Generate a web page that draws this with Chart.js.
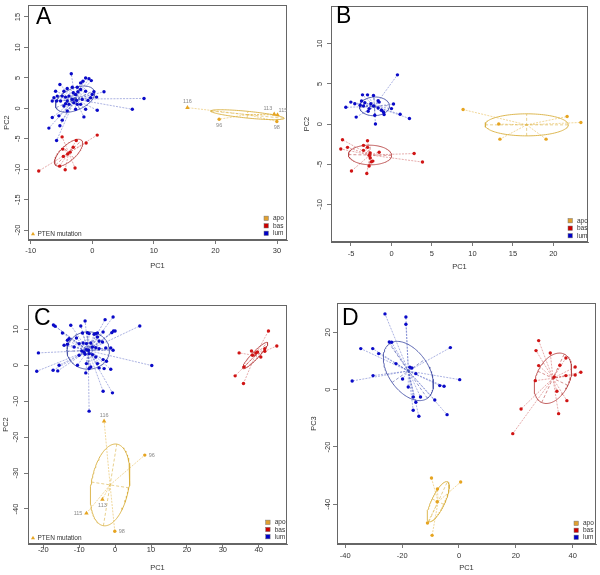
<!DOCTYPE html>
<html><head><meta charset="utf-8">
<script src="https://cdn.jsdelivr.net/npm/chart.js@4.4.1/dist/chart.umd.min.js"></script>
<style>
body{margin:0;background:#fff;width:600px;height:575px;position:relative;overflow:hidden}
canvas{position:absolute}
</style></head><body>
<canvas id="cA" width="300" height="290" style="left:0;top:0"></canvas>
<canvas id="cB" width="300" height="290" style="left:300px;top:0"></canvas>
<canvas id="cC" width="300" height="285" style="left:0;top:290px"></canvas>
<canvas id="cD" width="300" height="285" style="left:300px;top:290px"></canvas>
<script>
// ---------- DATA ----------
const groupNames = ['apo', 'bas', 'lum'];

// Panel A (PC1 vs PC2)
const A_xticks = [-10, 0, 10, 20, 30];
const A_yticks = [-20, -15, -10, -5, 0, 5, 10, 15];
const A_lum = [[-3.41,5.68],[-0.54,4.87],[-1.08,4.98],[-0.16,4.55],[-1.9,4.17],[-1.52,4.44],[-2.44,3.46],[-3.25,3.46],[-4.07,3.25],[-5.26,3.9],[-5.96,2.81],[-4.61,2.81],[0.27,2.71],[1.9,2.71],[0,2.27],[-0.27,1.73],[0.7,1.84],[-1.08,2.81],[-1.9,3.08],[-2.33,2.71],[-2.71,2.27],[-3.09,2.54],[-3.79,2.0],[-4.34,1.84],[-4.88,2.0],[-5.69,2.0],[-6.23,1.73],[-6.5,1.19],[-5.8,1.19],[-5.15,1.19],[-4.07,1.19],[-3.25,1.46],[-2.55,1.3],[-1.63,1.46],[-0.7,1.3],[-1.9,0.65],[-2.98,0.92],[-3.79,0.65],[-4.34,0.76],[-4.61,0.38],[-4.07,-0.43],[-2.71,-0.16],[-2.44,0.65],[-1.08,-0.16],[0.81,-0.32],[-6.5,-1.52],[-5.42,-1.24],[-1.36,-1.41],[-4.88,-1.95],[-5.26,-2.87],[-7.05,-3.25],[-5.8,-5.3],[8.4,1.62],[6.5,-0.16]];
const A_bas = [[-8.7,-10.3],[-5.3,-9.5],[-4.4,-10.1],[-2.8,-9.8],[-4.7,-7.9],[-4.0,-7.5],[-3.6,-7.2],[-4.8,-6.7],[-3.1,-6.4],[-2.6,-5.3],[-1.0,-5.7],[0.8,-4.4],[-4.9,-4.7]];
const A_apo = [[15.45,0.11],[20.6,-1.79],[29.54,-0.97],[30.08,-1.08],[29.97,-2.16]];
const A_apo_ids = ['116', '96', '113', '115', '98'];
const A_apo_pten = [1, 0, 1, 1, 0];
// ellipse: centre x, centre y, axis-1 (dx, dy), axis-2 (dx, dy)
const A_lum_ell = [-2.8, 1.5, 3.1, 1.4, -0.74, 1.64];
const A_bas_ell = [-3.85, -7.3, 2.12, 2.03, -0.85, 0.88];
const A_apo_ell = [25.2, -1.05, 5.96, -0.6, 0.055, 0.55];

// Panel B (PC1 vs PC2)
const B_xticks = [-5, 0, 5, 10, 15, 20];
const B_yticks = [-10, -5, 0, 5, 10];
const B_lum = [[0.74,6.12],[-3.58,3.63],[-2.96,3.63],[-2.22,3.55],[-5.02,2.73],[-4.53,2.53],[-3.7,2.86],[-3.29,2.65],[-2.55,2.53],[-1.65,2.9],[-1.52,2.73],[-5.64,2.08],[-3.87,2.33],[-3.46,2.24],[-2.76,1.92],[-2.22,2.24],[-1.65,2.0],[-1.23,1.71],[-0.99,1.51],[-0.91,1.18],[0.25,2.49],[0,1.92],[1.07,1.22],[2.22,0.69],[-4.36,0.86],[-2.88,1.59],[-2.06,1.1],[-1.98,0]];
const B_bas = [[-6.05,-1.96],[-6.26,-3.1],[-5.43,-2.9],[-4.94,-5.84],[-3.46,-2.65],[-2.96,-2.08],[-3.46,-3.27],[-2.96,-2.9],[-2.76,-3.88],[-2.63,-4.2],[-2.47,-4.69],[-2.3,-4.61],[-2.76,-5.22],[-3.05,-6.16],[-1.52,-3.51],[2.8,-3.67],[3.83,-4.73],[-2.63,-3.59]];
const B_apo = [[8.85,1.8],[13.25,0],[13.4,-1.88],[19.1,-1.88],[21.7,0.94],[23.4,0.2]];
const B_lum_ell = [-2.1, 2.2, 1.85, 0.1, -0.06, 1.16];
const B_bas_ell = [-2.65, -3.85, 2.67, -0.05, 0.02, 1.22];
const B_apo_ell = [16.7, -0.1, 5.14, 0, 0, 1.37];

// Panel C (PC1 vs PC2)
const C_xticks = [-20, -10, 0, 10, 20, 30, 40];
const C_yticks = [-40, -30, -20, -10, 0, 10];
const C_lum = [[-17.18,11.2],[-16.71,10.83],[-0.56,13.43],[-2.79,12.69],[-8.36,12.31],[-12.35,11.11],[-9.56,10.93],[-14.67,8.98],[-12.81,7.41],[-13.28,6.94],[-10.77,7.59],[-9.1,8.98],[-7.71,9.07],[-7.24,8.8],[-5.85,8.61],[-5.39,8.8],[-4.92,8.98],[-3.34,9.26],[-0.93,9.07],[-0.46,9.54],[0,9.54],[6.87,10.93],[-14.21,5.56],[-13.28,5.83],[-11.42,5.09],[-10.03,6.02],[-8.91,6.2],[-7.99,6.02],[-6.78,6.2],[-4.92,7.87],[-4.46,6.76],[-3.53,6.48],[-6.31,5.09],[-5.39,4.91],[-7.43,4.17],[-9.29,3.98],[-8.64,3.61],[-7.99,4.35],[-4.46,4.63],[-2.6,4.81],[-1.21,4.81],[-0.56,4.17],[-21.36,3.43],[-10.03,2.78],[-8.36,3.06],[-7.24,3.24],[-6.31,2.96],[-5.39,2.31],[-3.34,1.57],[-2.41,1.11],[-15.6,0],[-10.49,0],[-7.99,0.46],[-4.92,0.46],[-6.78,-0.46],[-4.46,-0.74],[-3.06,-0.93],[-1.21,-1.11],[-21.82,-1.67],[-17.27,-1.39],[-15.97,-1.57],[-8.17,-2.13],[-7.24,-0.93],[10.21,-0.09],[-3.34,-7.22],[-0.74,-7.69],[-7.24,-12.78]];
const C_bas = [[42.71,9.54],[45.03,5.37],[34.54,3.43],[37.98,3.98],[39.18,3.43],[39.65,3.7],[41.69,4.63],[41.69,3.89],[40.58,2.31],[35.93,-0.46],[33.43,-2.96],[35.75,-5.09],[38.25,2.78]];
const C_apo = [[-3.06,-15.56],[8.26,-25.0],[-3.53,-37.31],[-7.99,-41.2],[-0.09,-46.2]];
const C_apo_ids = ['116', '96', '113', '115', '98'];
const C_apo_pten = [1, 0, 1, 1, 0];
const C_lum_ell = [-7.5, 4.1, 5.9, 0.2, -0.2, 5.2];
const C_bas_ell = [39.0, 2.7, 3.43, 3.61, 0.72, -0.69];
const C_apo_ell = [-1.4, -33.3, 1.86, 11.35, 5.2, -0.8];

// Panel D (PC1 vs PC3)
const D_xticks = [-40, -20, 0, 20, 40];
const D_yticks = [-40, -20, 0, 20];
const D_lum = [[-26.03,26.41],[-18.67,25.36],[-18.67,22.8],[-34.55,14.31],[-30.35,14.31],[-28.25,12.57],[-24.51,16.64],[-23.69,16.52],[-22.17,9.08],[-17.27,7.8],[-16.57,7.56],[-3.03,14.66],[-37.58,3.02],[-30.23,4.89],[-19.84,3.72],[-15.17,5.58],[0.25,3.49],[-17.85,0.93],[-16.1,-2.56],[-13.53,-2.56],[-15.17,-4.42],[-16.1,-7.21],[-14.11,-9.31],[-8.51,-3.61],[-6.76,1.4],[-5.25,1.16],[-4.19,-8.73]];
const D_bas = [[28.03,17.1],[27.1,13.61],[32.12,12.8],[37.61,11.05],[28.03,8.38],[35.5,8.49],[40.87,7.91],[42.86,6.05],[26.86,3.14],[33.52,4.42],[37.61,4.89],[40.87,5.12],[34.45,-0.58],[37.96,-3.84],[35.04,-8.38],[21.84,-6.75],[18.92,-15.36]];
const D_apo = [[-9.68,-30.83],[-7.58,-34.67],[0.59,-32.23],[-7.69,-39.09],[-11.08,-46.54],[-9.45,-50.84]];
const D_lum_ell = [-17.8, 6.5, -6.69, 9.53, 5.74, 4.0];
const D_bas_ell = [33.05, 3.96, 3.95, 8.44, 5.30, -2.47];
const D_apo_ell = [-7.34, -39.1, 3.26, 6.95, 2.13, -0.99];

// ---------- STYLE ----------
const FONT = '"Liberation Sans", Arial, Helvetica, sans-serif';
const TICK_SIZE = 7.5;
const COLORS = {
  lum: {pt: '#0a0ac8', ell: '#4a55a8', star: 'rgba(70,85,190,0.75)', leg: '#0000c8'},
  bas: {pt: '#d01414', ell: '#b84545', star: 'rgba(200,70,70,0.75)', leg: '#cc0000'},
  apo: {pt: '#e6a420', ell: '#d9b040', star: 'rgba(228,178,60,0.85)', leg: '#e0a030'}
};

function ellipsePts(e) {
  const [cx, cy, ax, ay, bx, by] = e; const out = [];
  for (let i = 0; i <= 120; i++) { const t = 2 * Math.PI * i / 120;
    out.push({x: cx + ax * Math.cos(t) + bx * Math.sin(t), y: cy + ay * Math.cos(t) + by * Math.sin(t)}); }
  return out;
}
function axesPts(e) {
  const [cx, cy, ax, ay, bx, by] = e;
  return [{x: cx - ax, y: cy - ay}, {x: cx + ax, y: cy + ay}, {x: null, y: null}, {x: cx - bx, y: cy - by}, {x: cx + bx, y: cy + by}];
}
function starPts(e, pts) {
  const out = [];
  pts.forEach(p => { out.push({x: e[0], y: e[1]}, {x: p[0], y: p[1]}, {x: null, y: null}); });
  return out;
}
const toXY = pts => pts.map(p => ({x: p[0], y: p[1]}));

const measureCtx = document.createElement('canvas').getContext('2d');
function textW(s, size) { measureCtx.font = size + 'px ' + FONT; return measureCtx.measureText(s).width; }

const deco = {
  id: 'deco',
  afterDraw(chart, args, o) {
    const ctx = chart.ctx, ca = chart.chartArea;
    const xs = chart.scales.x, ys = chart.scales.y;
    ctx.save();
    // box
    ctx.strokeStyle = '#666'; ctx.lineWidth = 1;
    ctx.strokeRect(Math.round(ca.left) + 0.5, Math.round(ca.top) + 0.5, Math.round(ca.right - ca.left) - 1, Math.round(ca.bottom - ca.top) - 1);
    // panel letter
    ctx.fillStyle = '#000'; ctx.font = o.letterSize + 'px ' + FONT;
    ctx.textAlign = 'left'; ctx.textBaseline = 'alphabetic';
    ctx.fillText(o.letter, o.letterX, o.letterY);
    // legend
    const rows = ['apo', 'bas', 'lum'];
    ctx.font = '6.5px ' + FONT; ctx.textBaseline = 'middle';
    rows.forEach((g, i) => {
      const y = ca.bottom - o.legBottom - (2 - i) * o.legStep;
      const x = ca.right - o.legRight;
      ctx.fillStyle = COLORS[g].leg; ctx.fillRect(x, y - 2.2, 4.4, 4.4);
      ctx.strokeStyle = '#777'; ctx.lineWidth = 0.5; ctx.strokeRect(x, y - 2.2, 4.4, 4.4);
      ctx.fillStyle = '#333'; ctx.fillText(g, x + 9, y + 0.3);
    });
    if (o.pten) {
      const x = ca.left + 5, y = ca.bottom - 6.3;
      ctx.fillStyle = COLORS.apo.pt; ctx.beginPath();
      ctx.moveTo(x, y - 2); ctx.lineTo(x + 2, y + 1.5); ctx.lineTo(x - 2, y + 1.5); ctx.closePath(); ctx.fill();
      ctx.fillStyle = '#333'; ctx.fillText('PTEN mutation', x + 4.5, y + 0.3);
    }
    // apo sample labels
    if (o.ids) {
      ctx.font = '5.5px ' + FONT; ctx.fillStyle = '#8a8a8a';
      o.ids.forEach((id, i) => {
        const px = xs.getPixelForValue(o.apo[i][0]), py = ys.getPixelForValue(o.apo[i][1]);
        const pos = o.labelPos[i];
        let dx = 0, dy = 0; ctx.textAlign = 'center';
        if (pos === 'above') dy = -6; else if (pos === 'below') dy = 6;
        else if (pos === 'left') { dx = -4; ctx.textAlign = 'right'; }
        else if (pos === 'right') { dx = 4; ctx.textAlign = 'left'; }
        else if (pos === 'aboveLeft') { dx = -2; dy = -6; ctx.textAlign = 'right'; }
        else if (pos === 'aboveRight') { dx = 1; dy = -4; ctx.textAlign = 'left'; }
        ctx.fillText(id, px + dx, py + dy);
      });
    }
    ctx.restore();
  }
};

function buildPanel(id, p) {
  const canvas = document.getElementById(id);
  const W = canvas.width, H = canvas.height;
  const datasets = [];
  p.groups.forEach(g => {
    const c = COLORS[g.name];
    datasets.push({data: toXY(g.pts), order: 0, showLine: false, pointStyle: g.styles || 'circle',
      pointRadius: g.radii || 1.7, backgroundColor: c.pt, borderColor: c.pt, borderWidth: 0});
    datasets.push({data: starPts(g.ell, g.pts), order: 2, showLine: true, pointRadius: 0,
      borderColor: c.star, borderWidth: 0.6, borderDash: [2, 1.2], spanGaps: false});
    datasets.push({data: axesPts(g.ell), order: 1, showLine: true, pointRadius: 0,
      borderColor: c.ell, borderWidth: 0.6, borderDash: [3, 2], spanGaps: false});
    datasets.push({data: ellipsePts(g.ell), order: 1, showLine: true, pointRadius: 0,
      borderColor: c.ell, borderWidth: 0.9, tension: 0});
  });
  const lh = TICK_SIZE * 1.2;
  const widest = Math.max(...p.yticks.map(v => textW(String(v), TICK_SIZE)));
  const tickLen = 4;
  const yPad = p.area.left - tickLen - p.yLabX - widest / 2;
  const tickFont = {family: FONT, size: TICK_SIZE};
  new Chart(canvas, {
    type: 'scatter',
    data: {datasets},
    options: {
      responsive: false, animation: false, events: [],
      layout: {padding: {left: 0, top: p.area.top, right: W - p.area.right, bottom: 0}},
      plugins: {legend: {display: false}, tooltip: {enabled: false}, deco: p.deco},
      scales: {
        x: {type: 'linear', position: 'bottom', min: p.xmin, max: p.xmax,
          afterBuildTicks: s => { s.ticks = p.xticks.map(v => ({value: v})); },
          afterFit: s => { s.height = H - p.area.bottom; },
          grid: {display: true, drawOnChartArea: false, drawTicks: true, tickLength: tickLen, color: '#555', lineWidth: 0.8},
          border: {display: true, color: '#666'},
          ticks: {font: tickFont, color: '#333', padding: p.area.xLabY - p.area.bottom - tickLen - lh / 2, autoSkip: false, maxRotation: 0, callback: v => String(v)},
          title: {display: true, text: 'PC1', font: tickFont, color: '#333', padding: {top: 0, bottom: H - p.xTitY - lh / 2}}},
        y: {type: 'linear', position: 'left', min: p.ymin, max: p.ymax,
          afterBuildTicks: s => { s.ticks = p.yticks.map(v => ({value: v})); },
          afterFit: s => { s.width = p.area.left; },
          grid: {display: true, drawOnChartArea: false, drawTicks: true, tickLength: tickLen, color: '#555', lineWidth: 0.8},
          border: {display: true, color: '#666'},
          ticks: {font: tickFont, color: '#333', padding: yPad, autoSkip: false, minRotation: 90, maxRotation: 90, crossAlign: 'center', callback: v => String(v)},
          title: {display: true, text: p.yTitle, font: tickFont, color: '#333', padding: {top: p.yTitX - lh / 2, bottom: 0}}}
      }
    },
    plugins: [deco]
  });
}

const triStyles = flags => flags.map(f => f ? 'triangle' : 'circle');
const triRadii = flags => flags.map(f => f ? 2.6 : 1.7);

buildPanel('cA', {
  area: {left: 28, top: 3, right: 287, bottom: 240, xLabY: 251},
  xmin: -10.44, xmax: 31.62, ymin: -21.63, ymax: 16.95, xticks: A_xticks, yticks: A_yticks,
  yLabX: 18, xTitY: 265.7, yTitX: 7, yTitle: 'PC2',
  groups: [
    {name: 'apo', pts: A_apo, ell: A_apo_ell, styles: triStyles(A_apo_pten), radii: triRadii(A_apo_pten)},
    {name: 'bas', pts: A_bas, ell: A_bas_ell},
    {name: 'lum', pts: A_lum, ell: A_lum_ell}],
  deco: {letter: 'A', letterSize: 23, letterX: 36, letterY: 24, legRight: 23, legBottom: 6.7, legStep: 7.5, pten: true,
    ids: A_apo_ids, apo: A_apo, labelPos: ['above', 'below', 'aboveLeft', 'aboveRight', 'below']}
});
buildPanel('cB', {
  area: {left: 31, top: 3, right: 288, bottom: 242, xLabY: 254},
  xmin: -7.47, xmax: 24.28, ymin: -14.67, ymax: 14.67, xticks: B_xticks, yticks: B_yticks,
  yLabX: 20, xTitY: 266.7, yTitX: 7, yTitle: 'PC2',
  groups: [
    {name: 'apo', pts: B_apo, ell: B_apo_ell},
    {name: 'bas', pts: B_bas, ell: B_bas_ell},
    {name: 'lum', pts: B_lum, ell: B_lum_ell}],
  deco: {letter: 'B', letterSize: 23, letterX: 36, letterY: 23, legRight: 20, legBottom: 6.3, legStep: 7.5, pten: false}
});
buildPanel('cC', {
  area: {left: 28, top: 15, right: 287, bottom: 254, xLabY: 260},
  xmin: -24.26, xmax: 47.87, ymin: -49.74, ymax: 16.76, xticks: C_xticks, yticks: C_yticks,
  yLabX: 16, xTitY: 278.3, yTitX: 6, yTitle: 'PC2',
  groups: [
    {name: 'apo', pts: C_apo, ell: C_apo_ell, styles: triStyles(C_apo_pten), radii: triRadii(C_apo_pten)},
    {name: 'bas', pts: C_bas, ell: C_bas_ell},
    {name: 'lum', pts: C_lum, ell: C_lum_ell}],
  deco: {letter: 'C', letterSize: 23, letterX: 34, letterY: 35, legRight: 21.3, legBottom: 7.3, legStep: 7.2, pten: true,
    ids: C_apo_ids, apo: C_apo, labelPos: ['above', 'right', 'below', 'left', 'right']}
});
buildPanel('cD', {
  area: {left: 37, top: 13, right: 297, bottom: 254, xLabY: 265.7},
  xmin: -42.91, xmax: 48.2, ymin: -53.85, ymax: 30.22, xticks: D_xticks, yticks: D_yticks,
  yLabX: 28, xTitY: 278.3, yTitX: 14, yTitle: 'PC3',
  groups: [
    {name: 'apo', pts: D_apo, ell: D_apo_ell},
    {name: 'bas', pts: D_bas, ell: D_bas_ell},
    {name: 'lum', pts: D_lum, ell: D_lum_ell}],
  deco: {letter: 'D', letterSize: 23, letterX: 42, letterY: 35, legRight: 22, legBottom: 6.7, legStep: 7, pten: false}
});
</script>
</body></html>
